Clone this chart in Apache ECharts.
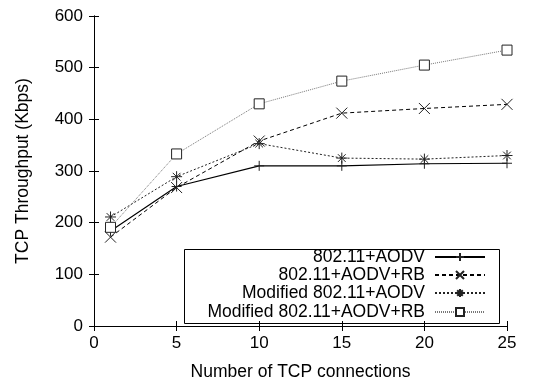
<!DOCTYPE html>
<html>
<head>
<meta charset="utf-8">
<script src="https://cdn.jsdelivr.net/npm/echarts@6/dist/echarts.min.js"></script>
<style>
  html, body { margin: 0; padding: 0; background: #fff; }
  #chart { width: 542px; height: 383px; }
</style>
</head>
<body>
<div id="chart"></div>
<script>
// data
var connections = [1, 5, 10, 15, 20, 25];
var aodv = [184, 270, 310, 310, 314, 315];
var aodvRb = [172, 268, 358, 412, 421, 429];
var modAodv = [211, 289, 353, 325, 323, 330];
var modAodvRb = [191, 333, 430, 474, 505, 534];
var names = ['802.11+AODV', '802.11+AODV+RB', 'Modified 802.11+AODV', 'Modified 802.11+AODV+RB'];

var plusPath = 'path://M5,0L5,10M0,5L10,5';
var crossPath = 'path://M0,0L10,10M10,0L0,10';
var starPath = 'path://M5,0L5,10M0,5L10,5M1.5,1.5L8.5,8.5M8.5,1.5L1.5,8.5';
var boxPath = 'path://M0,0L10,0L10,10L0,10Z';

function pairs(ys) {
  return connections.map(function (x, i) { return [x, ys[i]]; });
}

var font = 'Liberation Sans, Arial, sans-serif';
var chart = echarts.init(document.getElementById('chart'));

function mkSeries(name, ys, symbol, size, lineType, lineColor, lineWidth, fill) {
  return {
    name: name,
    type: 'line',
    data: pairs(ys),
    symbol: symbol,
    symbolSize: size,
    showAllSymbol: true,
    animation: false,
    lineStyle: { color: lineColor, width: lineWidth, type: lineType },
    itemStyle: { color: fill || '#000', borderColor: '#222', borderWidth: 1 }
  };
}

function mkLegend(name, top) {
  return {
    data: [name],
    right: 56,
    top: top,
    padding: 0,
    align: 'right',
    itemWidth: 50,
    itemHeight: 10,
    textStyle: { fontFamily: font, fontSize: 17.5, color: '#000', padding: [0, 5, 0, 0] }
  };
}

var tickText = { fontFamily: font, fontSize: 17, color: '#000' };
var nameText = { fontFamily: font, fontSize: 17.5, color: '#000' };

chart.setOption({
  backgroundColor: '#fff',
  animation: false,
  grid: { left: 94, right: 35, top: 16, bottom: 57, outerBoundsMode: 'none' },
  graphic: [{
    type: 'rect',
    left: 182, top: 247,
    shape: { width: 315, height: 74 },
    style: { fill: 'none', stroke: '#000', lineWidth: 1 },
    z: 1
  }],
  legend: [
    mkLegend(names[0], 248),
    mkLegend(names[1], 266),
    mkLegend(names[2], 284),
    mkLegend(names[3], 303)
  ],
  xAxis: [{
    type: 'value',
    min: 0, max: 25, interval: 5,
    name: 'Number of TCP connections',
    nameLocation: 'middle',
    nameGap: 37,
    nameTextStyle: nameText,
    axisLine: { lineStyle: { color: '#000', width: 1 } },
    axisTick: { inside: true, length: 5, lineStyle: { color: '#000' } },
    axisLabel: Object.assign({ margin: 9 }, tickText),
    splitLine: { show: false }
  }, {
    type: 'value', position: 'top',
    min: 0, max: 25, interval: 5,
    axisLine: { show: true, lineStyle: { color: '#000', width: 1 } },
    axisTick: { inside: true, length: 5, lineStyle: { color: '#000' } },
    axisLabel: { show: false },
    splitLine: { show: false }
  }],
  yAxis: [{
    type: 'value',
    min: 0, max: 600, interval: 100,
    name: 'TCP Throughput (Kbps)',
    nameLocation: 'middle',
    nameGap: 62,
    nameTextStyle: nameText,
    axisLine: { show: true, lineStyle: { color: '#000', width: 1 } },
    axisTick: { show: true, inside: true, length: 5, lineStyle: { color: '#000' } },
    axisLabel: Object.assign({ margin: 11 }, tickText),
    splitLine: { show: false }
  }, {
    type: 'value', position: 'right',
    min: 0, max: 600, interval: 100,
    axisLine: { show: true, lineStyle: { color: '#000', width: 1 } },
    axisTick: { show: true, inside: true, length: 5, lineStyle: { color: '#000' } },
    axisLabel: { show: false },
    splitLine: { show: false }
  }],
  series: [
    mkSeries(names[0], aodv, plusPath, 10, 'solid', '#000', 1.2),
    mkSeries(names[1], aodvRb, crossPath, 11, [4, 3], '#000', 1),
    mkSeries(names[2], modAodv, starPath, 11, [2, 2], '#222', 1),
    mkSeries(names[3], modAodvRb, boxPath, 10, [1, 1], '#777', 1, '#fff')
  ]
});
</script>
</body>
</html>
